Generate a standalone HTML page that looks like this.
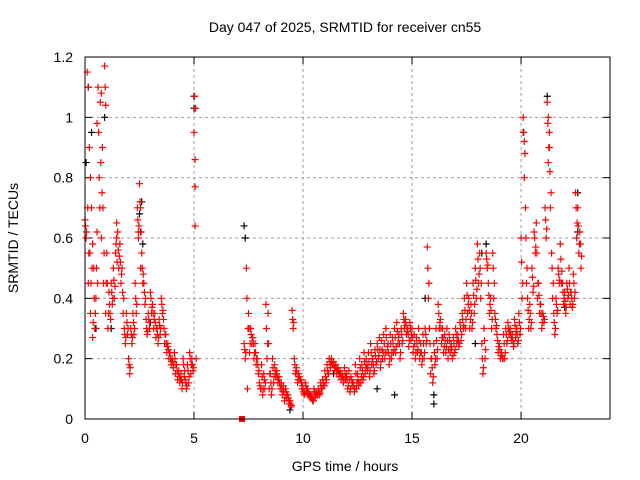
<!DOCTYPE html>
<html><head><meta charset="utf-8"><style>
body{margin:0;background:#fff}
svg{display:block;font-family:"Liberation Sans",sans-serif}
</style></head><body>
<svg id="c" width="640" height="480" xmlns="http://www.w3.org/2000/svg">
<rect x="0" y="0" width="640" height="480" fill="#fff"/>
<text x="345" y="32" font-size="14" text-anchor="middle">Day 047 of 2025, SRMTID for receiver cn55</text>
<text x="345" y="471" font-size="14" text-anchor="middle">GPS time / hours</text>
<text x="18" y="238" font-size="14" text-anchor="middle" transform="rotate(-90 18 238)">SRMTID / TECUs</text>
<g id="grid"></g>
<g id="axes"></g>
<g id="black"></g>
<g id="red"></g>
<rect x="85" y="57" width="525" height="362" fill="none" stroke="#000" stroke-width="1"/>
</svg>
<script>
const xTicks=[0,5,10,15,20];
const yTicks=[0,0.2,0.4,0.6,0.8,1,1.2];
const yTickLabels=["0","0.2","0.4","0.6","0.8","1","1.2"];
const redHours=[0,0.1,0.2,0.3,0.4,0.5,0.6,0.7,0.8,0.9,1,1.1,1.2,1.3,1.4,1.5,1.6,1.7,1.8,1.9,2,2.1,2.2,2.3,2.4,2.5,2.6,2.7,2.8,2.9,3,3.1,3.2,3.3,3.4,3.5,3.6,3.7,3.8,3.9,4,4.1,4.2,4.3,4.4,4.5,4.6,4.7,4.8,4.9,5,
7.3,7.4,7.5,7.6,7.7,7.8,7.9,8,8.1,8.2,8.3,8.4,8.5,8.6,8.7,8.8,8.9,9,9.1,9.2,9.3,9.4,9.5,9.6,9.7,9.8,9.9,10,10.1,10.2,10.3,10.4,10.5,10.6,10.7,10.8,10.9,11,11.1,11.2,11.3,11.4,11.5,11.6,11.7,11.8,11.9,12,12.1,12.2,12.3,12.4,12.5,12.6,12.7,12.8,12.9,13,13.1,13.2,13.3,13.4,13.5,13.6,13.7,13.8,13.9,14,14.1,14.2,14.3,14.4,14.5,14.6,14.7,14.8,14.9,15,15.1,15.2,15.3,15.4,15.5,15.6,15.7,15.8,15.9,16,16.1,16.2,16.3,16.4,16.5,16.6,16.7,16.8,16.9,17,17.1,17.2,17.3,17.4,17.5,17.6,17.7,17.8,17.9,18,18.1,18.2,18.3,18.4,18.5,18.6,18.7,18.8,18.9,19,19.1,19.2,19.3,19.4,19.5,19.6,19.7,19.8,19.9,20,20.1,20.2,20.3,20.4,20.5,20.6,20.7,20.8,20.9,21,21.1,21.2,21.3,21.4,21.5,21.6,21.7,21.8,21.9,22,22.1,22.2,22.3,22.4,22.5,22.6,22.7];
const redHigh=[0.66,1.15,0.9,0.7,0.5,0.4,1.1,1.05,0.9,1.17,0.55,0.42,0.45,0.5,0.55,0.62,0.58,0.5,0.3,0.35,0.2,0.3,0.35,0.45,0.7,0.78,0.55,0.45,0.33,0.35,0.42,0.38,0.35,0.3,0.33,0.4,0.33,0.28,0.25,0.22,0.2,0.22,0.18,0.16,0.15,0.2,0.13,0.18,0.22,0.2,0.95,
0.25,0.5,0.35,0.3,0.27,0.25,0.2,0.12,0.18,0.15,0.38,0.35,0.15,0.2,0.18,0.16,0.14,0.12,0.11,0.1,0.08,0.06,0.36,0.2,0.17,0.15,0.13,0.1,0.12,0.1,0.08,0.07,0.1,0.09,0.1,0.12,0.13,0.16,0.18,0.2,0.2,0.19,0.18,0.17,0.16,0.15,0.17,0.15,0.16,0.14,0.12,0.18,0.15,0.2,0.18,0.22,0.2,0.22,0.25,0.2,0.23,0.25,0.27,0.26,0.28,0.3,0.25,0.28,0.27,0.3,0.32,0.28,0.3,0.35,0.33,0.3,0.32,0.3,0.28,0.27,0.3,0.25,0.28,0.3,0.57,0.3,0.2,0.25,0.3,0.38,0.33,0.3,0.28,0.3,0.28,0.25,0.27,0.3,0.28,0.32,0.35,0.4,0.45,0.4,0.38,0.45,0.5,0.58,0.55,0.25,0.3,0.55,0.45,0.4,0.55,0.35,0.28,0.25,0.22,0.28,0.3,0.32,0.3,0.28,0.33,0.3,0.35,0.6,1.0,0.7,0.4,0.38,0.5,0.62,0.65,0.45,0.38,0.35,0.7,1.05,0.9,0.55,0.35,0.4,0.5,0.58,0.45,0.42,0.45,0.5,0.42,0.48,0.75,0.7,0.62];
const redMidA=[0.64,0.7,0.55,0.5,0.4,0.5,0.95,0.85,0.7,1.1,0.45,0.38,0.42,0.46,0.58,0.56,0.52,0.42,0.28,0.32,0.18,0.28,0.32,0.4,0.66,0.72,0.5,0.42,0.3,0.33,0.4,0.35,0.32,0.28,0.31,0.38,0.3,0.25,0.23,0.2,0.19,0.2,0.16,0.14,0.13,0.18,0.12,0.16,0.2,0.18,1.07,
0.23,0.4,0.3,0.28,0.25,0.22,0.18,0.11,0.14,0.13,0.3,0.25,0.12,0.17,0.16,0.14,0.12,0.1,0.09,0.09,0.07,0.05,0.33,0.18,0.15,0.14,0.12,0.09,0.11,0.09,0.075,0.065,0.09,0.085,0.09,0.11,0.12,0.14,0.16,0.19,0.19,0.18,0.17,0.16,0.15,0.14,0.15,0.13,0.13,0.13,0.11,0.15,0.13,0.17,0.16,0.19,0.18,0.19,0.22,0.18,0.21,0.23,0.23,0.23,0.25,0.27,0.22,0.25,0.25,0.27,0.29,0.25,0.28,0.33,0.31,0.28,0.3,0.27,0.25,0.25,0.26,0.22,0.25,0.28,0.5,0.25,0.17,0.22,0.26,0.35,0.3,0.27,0.26,0.26,0.26,0.23,0.25,0.28,0.26,0.3,0.33,0.36,0.41,0.36,0.35,0.41,0.46,0.53,0.5,0.2,0.26,0.53,0.41,0.36,0.5,0.33,0.26,0.23,0.21,0.25,0.28,0.3,0.28,0.26,0.31,0.28,0.32,0.52,0.95,0.6,0.36,0.35,0.47,0.6,0.55,0.41,0.35,0.34,0.66,0.98,0.82,0.5,0.32,0.38,0.48,0.53,0.42,0.39,0.43,0.45,0.4,0.45,0.7,0.64,0.58];
const redLow=[0.6,0.45,0.35,0.27,0.3,0.62,0.8,0.6,0.45,0.35,0.3,0.35,0.38,0.4,0.6,0.5,0.45,0.35,0.25,0.28,0.15,0.25,0.28,0.35,0.6,0.5,0.45,0.38,0.28,0.3,0.35,0.3,0.27,0.25,0.28,0.35,0.25,0.22,0.2,0.18,0.17,0.15,0.13,0.12,0.1,0.14,0.1,0.12,0.15,0.16,0.86,
0.2,0.1,0.22,0.25,0.2,0.18,0.15,0.1,0.08,0.1,0.2,0.1,0.08,0.12,0.14,0.12,0.1,0.08,0.06,0.07,0.05,0.04,0.3,0.15,0.12,0.13,0.1,0.08,0.09,0.08,0.07,0.06,0.07,0.08,0.08,0.1,0.11,0.12,0.15,0.17,0.18,0.16,0.15,0.14,0.13,0.12,0.13,0.1,0.09,0.11,0.09,0.1,0.11,0.12,0.13,0.15,0.16,0.14,0.18,0.15,0.18,0.2,0.17,0.2,0.2,0.22,0.18,0.2,0.22,0.22,0.25,0.2,0.25,0.3,0.28,0.24,0.26,0.22,0.2,0.22,0.2,0.18,0.2,0.25,0.4,0.15,0.12,0.18,0.2,0.3,0.25,0.22,0.22,0.2,0.22,0.2,0.22,0.25,0.24,0.26,0.3,0.3,0.35,0.3,0.3,0.35,0.4,0.45,0.4,0.15,0.2,0.5,0.35,0.3,0.4,0.3,0.22,0.2,0.2,0.2,0.25,0.28,0.26,0.24,0.27,0.25,0.28,0.4,0.8,0.45,0.3,0.3,0.42,0.55,0.4,0.35,0.3,0.32,0.6,0.85,0.7,0.4,0.28,0.35,0.45,0.45,0.38,0.35,0.4,0.38,0.37,0.4,0.6,0.55,0.5];
const redMidB=[0.62,0.55,0.45,0.32,0.35,0.45,0.7,0.75,0.55,0.45,0.35,0.33,0.4,0.44,0.52,0.54,0.48,0.4,0.27,0.3,0.17,0.27,0.3,0.38,0.64,0.62,0.48,0.4,0.29,0.32,0.37,0.33,0.3,0.27,0.3,0.36,0.28,0.24,0.22,0.19,0.18,0.18,0.15,0.13,0.12,0.16,0.11,0.14,0.18,0.17,1.03,
0.22,0.3,0.25,0.27,0.22,0.2,0.16,0.1,0.1,0.12,0.25,0.15,0.1,0.14,0.15,0.13,0.11,0.09,0.07,0.08,0.06,0.045,0.32,0.16,0.13,0.13,0.11,0.085,0.1,0.085,0.07,0.06,0.08,0.08,0.085,0.1,0.11,0.13,0.15,0.18,0.18,0.17,0.16,0.15,0.14,0.13,0.14,0.11,0.1,0.12,0.1,0.12,0.12,0.14,0.14,0.17,0.17,0.16,0.2,0.16,0.19,0.21,0.19,0.22,0.22,0.24,0.2,0.22,0.23,0.24,0.27,0.22,0.26,0.32,0.29,0.26,0.28,0.24,0.22,0.23,0.22,0.2,0.22,0.26,0.45,0.2,0.14,0.2,0.23,0.32,0.27,0.24,0.24,0.23,0.24,0.21,0.23,0.26,0.25,0.28,0.31,0.33,0.38,0.33,0.32,0.38,0.43,0.48,0.45,0.17,0.23,0.51,0.38,0.33,0.45,0.31,0.24,0.21,0.2,0.22,0.26,0.29,0.27,0.25,0.29,0.26,0.3,0.45,0.88,0.5,0.33,0.32,0.44,0.57,0.45,0.38,0.32,0.33,0.63,0.9,0.75,0.45,0.3,0.36,0.46,0.49,0.4,0.37,0.41,0.42,0.38,0.42,0.65,0.58,0.54];
const redExtraHours=[0.15,0.25,0.55,0.75,0.95,5.05,5.05,5.1,20.15,21.25,21.3,2.45,2.55,0.35,1.45];
const redExtraValues=[1.1,0.8,0.98,1.08,1.04,0.77,0.64,0.2,0.92,1.0,0.95,0.62,0.7,0.58,0.65];
const blackHours=[0.05,0.15,0.3,0.5,2.6,2.5,2.55,2.65,5.0,5.0,7.3,7.35,9.4,16.0,16.0,13.4,14.2,17.9,18.2,18.4,20.1,21.2,22.0,22.6,22.6,1.2,3.0,11.4,15.6,0.9];
const blackValues=[0.85,1.1,0.95,0.3,0.72,0.68,0.62,0.58,1.07,1.03,0.64,0.6,0.03,0.05,0.08,0.1,0.08,0.25,0.55,0.58,0.95,1.07,0.37,0.75,0.62,0.3,0.32,0.15,0.4,1.0];
const zeroHours=[7.2];
const zeroValues=[0];

const L=85,R=610,T=57,B=419,XMAX=24.08,YMAX=1.2;
function sx(h){return L+h/XMAX*(R-L);}
function sy(v){return B-v/YMAX*(B-T);}
const NS="http://www.w3.org/2000/svg";
function mk(tag,attrs,parent){const e=document.createElementNS(NS,tag);for(const k in attrs)e.setAttribute(k,attrs[k]);parent.appendChild(e);return e;}
const grid=document.getElementById('grid'),axes=document.getElementById('axes');
yTicks.forEach((v,i)=>{
  const y=sy(v);
  if(v>0&&v<YMAX){const g=mk('line',{x1:L,x2:R,y1:y,y2:y,stroke:'#a0a0a0','stroke-dasharray':'3,3'},grid);
    
    }
  mk('line',{x1:L,x2:L+7,y1:y,y2:y,stroke:'#000'},axes);
  mk('line',{x1:R-7,x2:R,y1:y,y2:y,stroke:'#000'},axes);
  const t=mk('text',{x:L-12,y:y+5,'font-size':14,'text-anchor':'end'},axes);
  t.textContent=yTickLabels[i];
  
  
});
xTicks.forEach(h=>{
  const x=sx(h);
  if(h>0){const g=mk('line',{x1:x,x2:x,y1:T,y2:B,stroke:'#a0a0a0','stroke-dasharray':'3,3'},grid);
    
    }
  mk('line',{x1:x,x2:x,y1:B,y2:B-7,stroke:'#000'},axes);
  mk('line',{x1:x,x2:x,y1:T,y2:T+7,stroke:'#000'},axes);
  const t=mk('text',{x:x,y:B+24,'font-size':14,'text-anchor':'middle'},axes);
  t.textContent=String(h);
  
  
});
function plus(g,h,v,col){
  const x=sx(h),y=sy(v);
  const p=mk('path',{d:`M${x-3.5},${y}H${x+3.5}M${x},${y-3.5}V${y+3.5}`,stroke:col,'stroke-width':1.2,fill:'none'},g);
  
  
}
const bg=document.getElementById('black'),rg=document.getElementById('red');
blackHours.forEach((h,i)=>plus(bg,h,blackValues[i],'#000'));
redHours.forEach((h,i)=>{
  plus(rg,h,redHigh[i],'#f00');
  plus(rg,h+0.025,redMidA[i],'#f00');
  plus(rg,h+0.05,redLow[i],'#f00');
  plus(rg,h+0.075,redMidB[i],'#f00');
});
redExtraHours.forEach((h,i)=>plus(rg,h,redExtraValues[i],'#f00'));
zeroHours.forEach((h,i)=>{
  const r=mk('rect',{x:sx(h)-3,y:sy(zeroValues[i])-3,width:6,height:6,fill:'#f00'},rg);
  
  
});
</script>
</body></html>
